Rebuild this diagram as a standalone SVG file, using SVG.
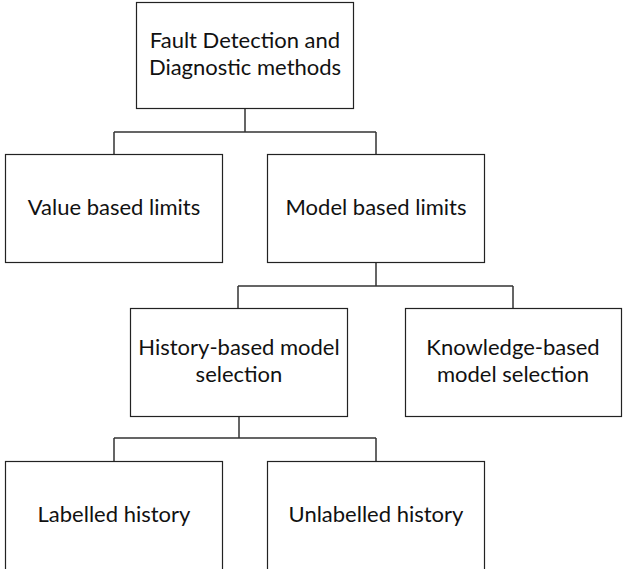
<svg xmlns="http://www.w3.org/2000/svg" width="624" height="569" viewBox="0 0 624 569">
<style>
.box{fill:#fff;stroke:#222;stroke-width:1.2}
.t{font-family:Lato,"Liberation Sans",sans-serif;font-size:22px;fill:#111;text-anchor:middle}
.c{fill:none;stroke:#333;stroke-width:1.5}
</style>
<rect width="624" height="569" fill="#fff"/>
<g id="connectors">
<path class="c" d="M245 108V132M114 132H376M114 132V154M376 132V154"/>
<path class="c" d="M376 262V286M238 286H513M238 286V308M513 286V308"/>
<path class="c" d="M239 416V438M114 438H376M114 438V461M376 438V461"/>
</g>
<g id="n_root"><rect class="box" x="136.5" y="2.5" width="217" height="106"/><text class="t" x="245" y="48">Fault Detection and</text><text class="t" x="245" y="75">Diagnostic methods</text></g>
<g id="n_value"><rect class="box" x="5.5" y="154.5" width="217" height="108"/><text class="t" x="114" y="215">Value based limits</text></g>
<g id="n_model"><rect class="box" x="267.5" y="154.5" width="217" height="108"/><text class="t" x="376" y="215">Model based limits</text></g>
<g id="n_history"><rect class="box" x="130.5" y="308.5" width="217" height="108"/><text class="t" x="239" y="355">History-based model</text><text class="t" x="239" y="382">selection</text></g>
<g id="n_knowledge"><rect class="box" x="405.5" y="308.5" width="216" height="108"/><text class="t" x="513" y="355">Knowledge-based</text><text class="t" x="513" y="382">model selection</text></g>
<g id="n_labelled"><rect class="box" x="5.5" y="461.5" width="217" height="110"/><text class="t" x="114" y="522">Labelled history</text></g>
<g id="n_unlabelled"><rect class="box" x="267.5" y="461.5" width="217" height="110"/><text class="t" x="376" y="522">Unlabelled history</text></g>
</svg>
